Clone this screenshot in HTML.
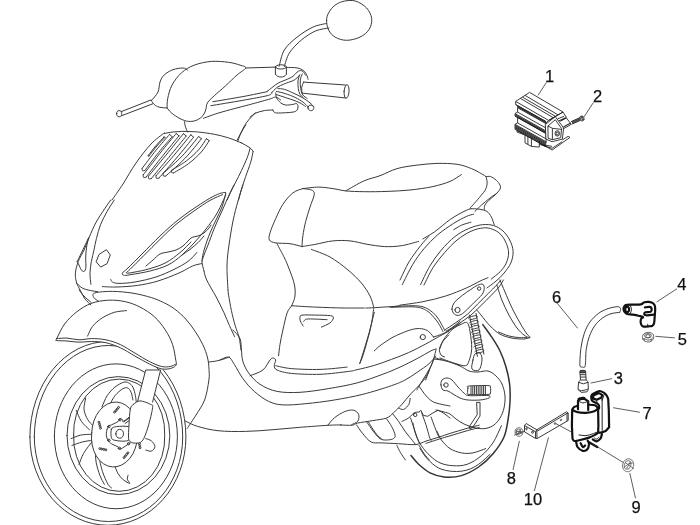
<!DOCTYPE html>
<html><head><meta charset="utf-8"><title>Parts diagram</title>
<style>
html,body{margin:0;padding:0;background:#fff;}
svg{display:block;will-change:transform}
.g{fill:none;stroke:#3a3a3a;stroke-width:1;stroke-linecap:round;stroke-linejoin:round}
.k{fill:none;stroke:#222;stroke-width:1;stroke-linecap:round;stroke-linejoin:round}
.k2{fill:none;stroke:#1a1a1a;stroke-width:0.85;stroke-linejoin:round}
.k3{fill:none;stroke:#222;stroke-width:0.9;stroke-linejoin:round}
.kb{fill:none;stroke:#111;stroke-width:2.2;stroke-linejoin:round;stroke-linecap:round}
.n{fill:none;stroke:#555;stroke-width:0.9}
.n2{fill:none;stroke:#444;stroke-width:0.7}
.gt{fill:none;stroke:#333;stroke-width:1.5;stroke-linecap:round}
.nf{stroke:none}
.t{fill:none;stroke:#333;stroke-width:0.8}
text{font-family:"Liberation Sans",sans-serif;font-size:16.5px;fill:#111;stroke:#111;stroke-width:0.25px}
</style></head><body>
<svg width="700" height="525" viewBox="0 0 700 525">
<rect width="700" height="525" fill="#fff"/>
<path class="g" d="M98.6 301.2C97.8 300.6 94.3 298.7 93.7 297.3C93.1 295.9 91.8 293.9 94.9 292.9C98.1 291.9 106.2 291.3 112.6 291.4C118.9 291.4 126.5 292.2 133.0 293.2C139.5 294.2 146.3 296.1 151.4 297.6C156.5 299.2 159.6 300.6 163.5 302.5C167.4 304.4 170.9 306.2 174.6 309.0C178.3 311.8 182.3 315.3 185.7 319.0C189.1 322.7 192.3 327.1 195.2 331.4C198.1 335.7 200.8 340.4 202.9 344.8C205.0 349.2 206.6 353.9 207.6 358.0C208.6 362.1 208.8 365.8 209.0 369.5C209.2 373.2 209.6 374.9 208.9 380.0C208.2 385.1 206.8 394.2 204.6 400.0C202.4 405.8 198.9 410.3 196.0 415.0C193.1 419.7 188.7 426.2 187.2 428.4"/>
<path class="g" style="fill:#fff" d="M29.9 437A78 95.5 0 0 1 185.9 437A78 88.3 0 0 1 29.9 437Z"/>
<path class="g" d="M34.3 437A74.2 91.5 0 0 1 182.7 437A74.2 84.5 0 0 1 34.3 437ZM54.4 436.3A61.5 72.4 0 1 0 177.4 436.3A61.5 72.4 0 1 0 54.4 436.3ZM67.0 435.6A51.4 59.0 0 1 0 169.8 435.6A51.4 59.0 0 1 0 67.0 435.6ZM73.6 435.2A45.6 53.6 0 1 0 164.7 435.2A45.6 53.6 0 1 0 73.6 435.2ZM102.0 406.9C102.9 405.0 105.0 399.0 107.1 395.7C109.3 392.4 112.1 389.4 114.9 387.1C117.6 384.9 121.1 383.1 123.4 382.3C125.7 381.6 127.0 382.1 128.6 382.9C130.1 383.7 131.7 385.0 132.9 387.1C134.0 389.3 134.9 393.1 135.4 395.7C136.0 398.3 136.1 401.4 136.3 402.6M110.1 403.9C110.9 402.5 113.1 397.9 115.2 395.4C117.3 392.9 120.5 390.1 122.6 388.9C124.7 387.6 126.3 387.4 127.7 388.0C129.1 388.6 130.3 390.3 131.1 392.3C132.0 394.3 132.6 398.7 132.9 400.0M85.7 398.3C85.4 400.1 83.7 405.9 84.0 409.4C84.3 413.0 86.3 417.1 87.8 419.7C89.2 422.3 91.8 424.3 92.6 425.2M76.3 410.3C77.1 412.1 79.2 418.2 81.4 421.4C83.6 424.7 88.1 428.3 89.5 429.7M71.1 438.6C72.7 438.0 77.2 435.9 80.6 435.1C83.9 434.4 89.4 434.4 91.2 434.3M72.0 445.4C73.7 444.9 78.9 442.9 82.3 442.0C85.7 441.1 90.6 440.6 92.2 440.3M92.6 440.9C91.1 443.0 85.8 449.6 83.5 453.5C81.3 457.5 79.8 462.6 79.0 464.4M95.3 449.9C95.4 452.0 95.4 458.4 96.2 462.6C97.0 466.8 98.5 471.6 99.8 475.2C101.2 478.9 103.6 482.8 104.3 484.3M98.9 457.1C99.5 459.6 101.0 467.1 102.5 471.6C104.0 476.2 106.5 481.6 108.0 484.3C109.5 487.0 111.0 487.3 111.6 487.9M114.3 464.4C114.9 465.9 116.4 470.9 117.9 473.4C119.4 476.0 121.4 478.1 123.3 479.8C125.3 481.4 129.0 483.5 129.7 483.4C130.3 483.3 127.6 480.6 127.3 479.2C127.1 477.9 127.9 475.9 128.1 475.2"/>
<path class="g" style="fill:#fff" d="M91.7 432.9A23.0 30.6 4 1 0 137.5 436.1A23.0 30.6 4 1 0 91.7 432.9Z"/>
<path class="k3" d="M113.6 412.1A0.9 0.9 0 1 0 115.5 412.1A0.9 0.9 0 1 0 113.6 412.1ZM115.0 410.6A0.9 0.9 0 1 0 116.9 410.6A0.9 0.9 0 1 0 115.0 410.6ZM116.3 409.0A0.9 0.9 0 1 0 118.2 409.0A0.9 0.9 0 1 0 116.3 409.0ZM117.6 407.4A0.9 0.9 0 1 0 119.5 407.4A0.9 0.9 0 1 0 117.6 407.4ZM98.0 422.2A0.9 0.9 0 1 0 99.9 422.2A0.9 0.9 0 1 0 98.0 422.2ZM98.6 424.2A0.9 0.9 0 1 0 100.5 424.2A0.9 0.9 0 1 0 98.6 424.2ZM99.1 426.2A0.9 0.9 0 1 0 101.0 426.2A0.9 0.9 0 1 0 99.1 426.2ZM99.6 428.2A0.9 0.9 0 1 0 101.5 428.2A0.9 0.9 0 1 0 99.6 428.2ZM98.9 448.6A0.9 0.9 0 1 0 100.8 448.6A0.9 0.9 0 1 0 98.9 448.6ZM100.9 449.0A0.9 0.9 0 1 0 102.8 449.0A0.9 0.9 0 1 0 100.9 449.0ZM102.9 449.4A0.9 0.9 0 1 0 104.8 449.4A0.9 0.9 0 1 0 102.9 449.4ZM104.9 449.8A0.9 0.9 0 1 0 106.8 449.8A0.9 0.9 0 1 0 104.9 449.8ZM123.1 457.6A0.9 0.9 0 1 0 125.0 457.6A0.9 0.9 0 1 0 123.1 457.6ZM124.4 456.0A0.9 0.9 0 1 0 126.3 456.0A0.9 0.9 0 1 0 124.4 456.0ZM125.7 454.4A0.9 0.9 0 1 0 127.6 454.4A0.9 0.9 0 1 0 125.7 454.4ZM127.0 452.8A0.9 0.9 0 1 0 128.9 452.8A0.9 0.9 0 1 0 127.0 452.8ZM138.4 443.7A0.9 0.9 0 1 0 140.3 443.7A0.9 0.9 0 1 0 138.4 443.7ZM138.8 445.8A0.9 0.9 0 1 0 140.7 445.8A0.9 0.9 0 1 0 138.8 445.8ZM139.1 447.8A0.9 0.9 0 1 0 141.0 447.8A0.9 0.9 0 1 0 139.1 447.8Z"/>
<path class="g" d="M111.4 429.1C112.3 427.3 113.7 427.0 116.6 426.6C119.4 426.1 126.2 426.1 128.6 426.6C130.9 427.0 130.5 427.1 130.6 429.1C130.8 431.1 130.5 436.6 129.6 438.6C128.7 440.6 127.6 440.9 125.1 441.1C122.7 441.4 117.1 440.9 114.9 440.3C112.6 439.7 112.0 439.6 111.4 437.7C110.9 435.9 110.6 431.0 111.4 429.1ZM107.1 429.1C107.4 428.6 108.1 426.4 108.9 425.7C109.6 425.0 109.9 425.6 111.4 424.9C113.0 424.1 116.9 422.4 118.3 421.4C119.7 420.4 119.3 419.1 120.0 418.9C120.7 418.6 122.0 419.3 122.6 419.7C123.1 420.1 121.9 422.2 123.4 421.4C125.0 420.6 130.6 416.0 132.0 414.9M107.1 429.1C107.0 430.1 106.1 433.3 106.3 435.1C106.4 437.0 107.1 438.9 108.0 440.3C108.9 441.7 109.7 442.6 111.4 443.7C113.1 444.9 116.9 446.2 118.3 447.1C119.7 448.1 119.3 449.1 120.0 449.2C120.7 449.3 121.3 448.8 122.6 448.0C123.9 447.2 126.4 445.4 127.7 444.6C129.0 443.7 129.9 443.1 130.3 442.9M118.8 419.7A1.2 1.2 0 1 0 121.2 419.7A1.2 1.2 0 1 0 118.8 419.7ZM107.7 426.6A1.2 1.2 0 1 0 110.1 426.6A1.2 1.2 0 1 0 107.7 426.6ZM107.7 440.3A1.2 1.2 0 1 0 110.1 440.3A1.2 1.2 0 1 0 107.7 440.3ZM118.3 448.3A1.2 1.2 0 1 0 120.7 448.3A1.2 1.2 0 1 0 118.3 448.3ZM127.4 443.7A1.2 1.2 0 1 0 129.8 443.7A1.2 1.2 0 1 0 127.4 443.7ZM115.9 433.8A3.8 3.8 0 1 0 123.4 433.8A3.8 3.8 0 1 0 115.9 433.8ZM123.8 421.9L133.4 414.9L133.7 417.1L125.1 423.5"/>
<path class="g" style="fill:#fff" d="M137.7 400.9L145.7 370.0L160.6 370.0L152.6 402.0"/>
<path class="g" style="fill:#fff" d="M133.6 404.3C132.0 405.6 131.2 405.4 130.4 408.9C129.6 412.3 129.3 419.9 129.0 424.9C128.7 429.8 128.3 435.7 128.6 438.6C128.9 441.4 129.7 441.2 130.9 442.0C132.0 442.8 133.5 443.3 135.4 443.1C137.3 443.0 140.2 443.5 142.3 440.9C144.4 438.2 146.3 432.7 148.0 427.1C149.7 421.6 152.2 411.5 152.6 407.7C153.0 403.9 152.4 405.4 150.3 404.3C148.2 403.1 142.8 400.9 140.0 400.9C137.2 400.9 135.2 403.0 133.6 404.3Z"/>
<path class="g" d="M145.7 438.6C146.7 439.0 149.9 439.5 151.4 440.9C153.0 442.2 154.9 444.9 154.9 446.6C154.9 448.3 153.0 450.6 151.4 451.1C149.9 451.7 146.7 450.2 145.7 450.0"/>
<path class="g" style="fill:#fff" d="M56.8 338.6C58.1 335.8 61.3 328.5 64.6 324.0C67.9 319.5 72.3 315.3 76.7 311.9C81.2 308.4 86.0 305.3 91.3 303.4C96.5 301.4 102.6 300.5 108.3 300.2C114.0 299.9 120.0 300.5 125.3 301.7C130.5 302.8 135.0 304.5 139.9 307.0C144.7 309.5 150.2 312.9 154.4 316.7C158.7 320.6 162.3 325.4 165.4 330.1C168.4 334.7 170.9 339.6 172.6 344.6C174.4 349.7 175.2 357.1 175.8 360.4C176.4 363.8 177.0 363.5 176.3 364.8C175.6 366.1 173.9 367.5 171.4 368.2C169.0 368.9 165.4 369.6 161.7 368.9C158.1 368.2 154.0 366.2 149.6 364.1C145.1 361.9 139.9 358.8 135.0 356.1C130.1 353.3 125.3 350.0 120.4 347.8C115.6 345.6 110.7 343.8 105.9 342.7C101.0 341.6 95.7 341.6 91.3 341.5C86.8 341.4 83.2 342.3 79.1 342.2C75.1 342.1 70.7 341.3 67.0 341.0C63.3 340.7 58.5 340.9 56.8 340.5C55.1 340.1 55.5 341.3 56.8 338.6Z"/>
<path class="g" d="M56.8 338.6C58.5 338.5 63.3 337.9 67.0 338.1C70.7 338.3 75.1 339.7 79.1 339.8C83.2 339.9 86.8 338.6 91.3 338.6C95.7 338.6 101.0 338.8 105.9 339.8C110.7 340.8 115.6 342.4 120.4 344.6C125.3 346.9 130.1 350.3 135.0 353.1C139.9 356.0 145.1 359.4 149.6 361.6C154.0 363.9 158.3 365.7 161.7 366.5C165.2 367.3 167.9 366.9 170.2 366.5C172.6 366.1 174.9 364.5 175.8 364.1M87.6 336.1C88.5 334.5 90.1 329.5 92.5 326.4C94.9 323.4 98.6 320.3 102.2 317.9C105.9 315.6 110.3 313.6 114.4 312.3C118.4 311.1 124.5 310.9 126.5 310.6M79.1 290.0C80.0 291.0 82.0 294.0 84.0 296.1C86.0 298.2 90.1 301.5 91.3 302.6M116.6 113.7A2.6 2.6 0 1 0 121.7 113.7A2.6 2.6 0 1 0 116.6 113.7ZM121.1 111.7L150.9 100.0M121.7 115.7L153.1 103.7M151.4 100.6C152.5 99.1 156.6 95.1 158.0 92.0C159.4 88.9 159.0 84.9 160.0 82.0C161.0 79.1 162.1 76.9 164.3 74.9C166.4 72.8 169.8 70.9 172.9 69.7C176.0 68.6 180.4 68.0 182.9 68.0C185.3 68.0 186.7 69.7 187.4 70.0M151.4 100.6C151.9 101.2 153.0 103.5 154.3 104.6C155.6 105.7 157.0 106.6 159.1 107.1C161.3 107.7 165.8 107.9 167.1 108.0M167.1 108.0C167.2 106.4 166.9 102.4 167.7 98.6C168.5 94.8 169.7 89.4 172.0 85.1C174.3 80.9 177.7 76.2 181.4 72.9C185.1 69.5 189.3 67.0 194.3 65.1C199.3 63.2 205.7 61.9 211.4 61.4C217.1 61.0 223.8 61.7 228.6 62.3C233.3 62.9 237.1 64.2 240.0 65.1C242.9 66.1 246.2 66.4 245.7 68.0C245.2 69.6 240.5 71.9 237.1 74.9C233.8 77.8 229.5 82.2 225.7 85.7C221.9 89.2 217.3 92.9 214.3 95.7C211.2 98.6 208.9 100.5 207.4 102.9C206.0 105.2 206.5 107.9 205.7 110.0C205.0 112.1 204.3 114.0 202.9 115.7C201.4 117.4 199.5 119.0 197.1 120.0C194.8 121.0 191.4 121.7 188.6 121.4C185.7 121.2 182.9 120.0 180.0 118.6C177.1 117.1 173.6 114.6 171.4 112.9C169.3 111.1 167.9 108.8 167.1 108.0M245.7 68.0L275.7 67.1M212.9 101.7C217.9 100.9 233.8 98.2 242.9 96.6C251.9 94.9 263.1 92.5 267.1 91.7M210.9 105.7C216.2 104.8 233.5 102.0 242.9 100.3C252.2 98.6 262.3 96.9 267.1 95.7C272.0 94.5 271.2 93.6 272.0 93.1M203.4 118.3C206.2 117.3 212.5 114.8 220.0 112.6C227.5 110.3 240.5 107.0 248.6 104.9C256.7 102.7 264.0 100.7 268.6 99.4C273.1 98.1 273.7 97.0 275.7 97.1C277.7 97.2 279.8 99.5 280.6 100.0M184.6 121.7C184.7 122.4 184.7 124.0 185.1 125.7C185.6 127.4 187.0 131.0 187.4 132.0M255.7 112.6C254.1 114.3 248.8 119.3 246.3 122.9C243.8 126.4 242.0 130.6 240.6 133.7C239.1 136.9 238.2 140.4 237.7 141.7M326.6 20.6C326.6 17.7 327.1 15.4 328.6 12.9C330.0 10.3 332.5 7.1 335.1 5.1C337.8 3.2 340.9 1.8 344.3 1.1C347.7 0.5 352.0 -0.0 355.7 1.1C359.4 2.3 363.9 5.1 366.6 8.0C369.2 10.9 371.3 15.0 371.7 18.6C372.1 22.1 371.1 26.3 369.1 29.4C367.2 32.5 363.8 35.3 360.0 37.1C356.2 39.0 350.7 40.3 346.6 40.3C342.4 40.3 338.1 38.9 335.1 37.1C332.1 35.4 330.0 32.8 328.6 30.0C327.1 27.2 326.6 23.4 326.6 20.6ZM326.6 23.4C324.3 24.0 317.8 24.9 312.9 27.1C308.0 29.4 301.9 33.3 297.1 37.1C292.4 41.0 287.3 45.1 284.3 50.0C281.3 54.9 280.0 63.6 279.1 66.3M328.9 28.0C326.7 28.5 320.3 28.9 315.7 30.9C311.1 32.9 305.8 36.3 301.4 40.0C297.0 43.7 292.3 48.4 289.4 52.9C286.6 57.3 285.1 64.3 284.3 66.6M275.4 66.9A5.4 2.1 0 1 0 286.3 66.9A5.4 2.1 0 1 0 275.4 66.9ZM275.4 67.1L275.4 74.3M286.4 67.1L286.4 74.3M275.4 74.3C275.8 74.6 277.0 76.0 277.9 76.4C278.8 76.9 279.8 77.0 280.9 77.0C281.9 77.0 283.1 76.9 284.0 76.4C284.9 76.0 286.0 74.6 286.4 74.3M286.4 67.4C288.2 67.5 294.4 67.4 297.1 67.9C299.9 68.4 301.6 69.4 303.1 70.4C304.7 71.5 305.6 72.8 306.4 74.3C307.3 75.8 307.9 78.5 308.1 79.3M267.1 91.4C268.1 90.7 271.0 88.3 272.9 86.9C274.8 85.4 276.2 84.1 278.6 82.9C281.0 81.6 284.8 80.4 287.1 79.3C289.5 78.2 291.2 77.6 292.9 76.4C294.5 75.2 296.0 73.1 297.1 72.1C298.3 71.2 298.8 70.8 299.7 70.7C300.7 70.6 301.9 70.6 302.9 71.4C303.9 72.2 305.2 74.8 305.7 75.4M271.4 92.9C272.4 92.0 275.0 88.9 277.1 87.4C279.3 85.9 281.7 85.0 284.3 83.9C286.9 82.7 290.6 81.8 292.9 80.7C295.1 79.6 296.7 78.1 297.9 77.1C299.0 76.2 299.3 75.4 299.6 75.0M299.6 75.0C299.3 76.0 298.2 78.5 298.0 80.7C297.8 83.0 298.0 86.3 298.3 88.6C298.6 90.8 299.2 92.8 300.0 94.3C300.8 95.8 302.6 96.9 303.1 97.4M302.3 74.0C302.0 75.0 300.5 77.6 300.3 80.0C300.0 82.4 300.3 86.1 300.7 88.6C301.1 91.1 301.8 93.4 302.9 95.0C303.9 96.6 306.4 97.7 307.1 98.3M303.6 82.1L345.4 85.0M302.1 93.1L345.4 98.0M344.1 91.3A2.4 6.6 4 1 0 349.0 91.6A2.4 6.6 4 1 0 344.1 91.3ZM303.6 82.1C303.3 83.0 302.0 85.6 301.7 87.4C301.5 89.3 302.1 92.2 302.1 93.1M277.9 88.6C278.9 88.7 281.8 88.6 284.3 89.3C286.8 90.0 289.8 91.4 292.9 92.9C296.0 94.3 300.0 96.2 302.9 97.9C305.7 99.5 308.2 101.4 310.0 102.9C311.8 104.3 313.0 105.8 313.6 106.4M276.4 91.4C277.5 91.7 280.1 92.0 282.9 92.9C285.6 93.7 289.8 95.1 292.9 96.4C296.0 97.8 299.1 99.5 301.4 101.0C303.8 102.5 305.7 104.4 306.9 105.7C308.0 107.0 308.0 108.3 308.3 108.9M276.4 94.6C277.5 94.9 280.1 95.8 282.9 96.7C285.6 97.6 290.0 99.0 292.9 100.0C295.7 101.0 297.9 101.8 300.0 102.9C302.1 103.9 304.5 105.8 305.4 106.4M308.4 106.4A2.9 2.3 30 1 0 313.3 109.3A2.9 2.3 30 1 0 308.4 106.4ZM275.7 92.9C275.9 93.7 275.7 96.2 276.6 97.9C277.4 99.5 279.2 101.7 280.7 102.9C282.2 104.0 283.7 104.7 285.7 105.0C287.7 105.3 291.1 104.7 292.9 104.4C294.6 104.2 295.6 103.3 296.4 103.6C297.3 103.8 297.9 104.9 298.0 106.0C298.1 107.1 298.0 109.0 297.1 110.0C296.3 111.0 296.0 111.6 292.9 112.1C289.8 112.6 281.7 113.0 278.6 113.0C275.5 113.0 275.2 112.8 274.3 112.3C273.3 111.8 273.1 110.4 272.9 110.0M250.0 117.1C251.0 116.5 253.3 114.2 255.7 113.1C258.1 112.0 261.4 111.1 264.3 110.6C267.1 110.0 271.4 110.1 272.9 110.0M164.2 136.8C162.9 138.3 158.9 142.3 156.2 145.4C153.6 148.5 149.5 153.8 148.2 155.5M164.9 137.5C163.6 138.9 159.6 142.9 156.9 146.0C154.3 149.1 150.3 154.4 148.9 156.1M164.2 136.8L164.9 137.5M148.2 155.5C148.2 155.6 148.2 156.0 148.3 156.1C148.4 156.2 148.8 156.1 148.9 156.1M169.6 134.4C167.3 137.1 160.5 144.7 155.9 150.4C151.4 156.0 144.5 165.3 142.2 168.3M172.2 136.7C169.9 139.3 163.1 146.9 158.6 152.5C154.0 158.1 147.2 167.4 144.9 170.4M169.6 134.4L172.2 136.7M142.2 168.3C142.2 168.7 142.0 170.4 142.5 170.7C143.0 171.1 144.5 170.5 144.9 170.4M176.2 133.5C173.5 136.8 165.4 146.5 159.9 153.4C154.5 160.3 146.0 171.3 143.2 174.9M179.0 135.8C176.3 139.1 168.3 148.8 162.8 155.7C157.3 162.5 148.9 173.5 146.1 177.1M176.2 133.5L179.0 135.8M143.2 174.9C143.3 175.3 143.1 177.1 143.6 177.4C144.0 177.8 145.7 177.2 146.1 177.1M183.4 133.7C180.5 137.3 171.7 148.1 165.9 155.2C160.1 162.3 151.4 172.7 148.5 176.2M186.2 136.0C183.3 139.6 174.5 150.4 168.7 157.5C162.9 164.6 154.2 175.0 151.4 178.5M183.4 133.7L186.2 136.0M148.5 176.2C148.6 176.6 148.3 178.4 148.8 178.8C149.2 179.2 150.9 178.6 151.4 178.5M190.8 134.8C188.0 138.3 179.5 148.8 173.7 155.6C167.9 162.4 159.0 172.4 156.1 175.7M193.6 137.2C190.8 140.6 182.3 151.2 176.5 158.0C170.7 164.8 161.8 174.8 158.9 178.1M190.8 134.8L193.6 137.2M156.1 175.7C156.1 176.1 155.8 177.9 156.3 178.3C156.7 178.7 158.4 178.1 158.9 178.1M198.6 136.5C197.0 138.4 192.5 144.3 189.2 148.1C186.0 151.8 183.6 154.7 179.3 158.9C175.0 163.1 166.0 170.9 163.3 173.3M201.4 138.7C199.9 140.7 195.3 146.6 192.0 150.4C188.8 154.2 186.2 157.3 181.8 161.5C177.5 165.8 168.5 173.6 165.8 176.0M198.6 136.5L201.4 138.7M163.3 173.3C163.3 173.7 162.8 175.4 163.2 175.9C163.6 176.3 165.4 176.0 165.8 176.0M206.4 138.7C205.1 140.5 202.1 146.0 198.7 149.7C195.4 153.4 190.9 157.5 186.4 160.9C181.9 164.3 174.3 168.5 171.9 170.0M209.2 140.6C207.9 142.5 204.7 148.2 201.3 152.0C197.8 155.8 193.1 160.2 188.5 163.7C183.9 167.1 176.2 171.3 173.7 172.9M206.4 138.7L209.2 140.6M171.9 170.0C171.8 170.4 171.0 171.9 171.3 172.3C171.6 172.8 173.3 172.8 173.7 172.9M164.3 133.5C165.8 133.2 170.1 132.3 173.0 132.0C175.9 131.7 178.7 131.5 181.7 131.4C184.7 131.3 187.9 131.5 191.0 131.6C194.1 131.7 196.1 131.8 200.0 132.2C203.9 132.6 209.5 133.4 214.3 134.3C219.1 135.2 224.1 136.5 228.6 137.9C233.1 139.3 239.3 142.1 241.4 142.9M164.3 132.9C162.1 134.8 155.7 139.0 151.0 144.0C146.3 149.0 140.7 156.3 136.0 163.0C131.3 169.7 127.0 177.8 123.0 184.0C119.0 190.2 113.8 197.3 112.0 200.0M110.7 200.0C109.4 201.9 105.4 207.6 102.9 211.4C100.4 215.2 98.0 218.6 95.7 222.9C93.5 227.1 91.2 232.6 89.3 237.1C87.3 241.7 85.8 246.0 84.0 250.0C82.2 254.0 79.7 257.6 78.3 261.4C76.9 265.2 75.7 269.4 75.4 272.9C75.1 276.3 75.6 279.0 76.4 282.0C77.3 285.0 79.1 288.2 80.6 291.0C82.0 293.8 83.3 296.7 85.0 299.0C86.7 301.3 89.9 303.9 90.9 304.9M114.3 200.0C113.1 201.9 109.4 207.4 107.1 211.4C104.9 215.5 102.5 219.8 100.7 224.3C98.9 228.8 97.5 234.3 96.4 238.6C95.3 242.9 94.8 246.2 94.0 250.0C93.2 253.8 92.1 257.6 91.4 261.4C90.8 265.2 90.1 269.0 90.0 272.9C89.9 276.7 90.7 282.4 90.9 284.3M88.6 237.9C88.2 239.4 87.0 243.9 86.6 247.1C86.1 250.4 85.8 253.8 85.7 257.1C85.6 260.5 86.1 264.8 85.9 267.1C85.6 269.5 85.0 271.0 84.3 271.4C83.5 271.9 82.4 271.3 81.4 270.0C80.4 268.7 79.0 265.0 78.3 263.6C77.6 262.2 77.3 262.0 77.1 261.7M88.6 237.9C87.4 240.4 83.3 248.9 81.4 252.9C79.5 256.8 77.9 260.2 77.1 261.7M99.3 254.3L106.4 249.7L110.3 255.0L107.1 263.6L100.7 267.1L96.4 262.1ZM225.4 192.6C223.9 191.8 218.9 193.6 214.0 196.0C209.1 198.4 202.0 203.0 196.0 207.0C190.0 211.0 184.0 215.2 178.0 220.0C172.0 224.8 166.0 230.3 160.0 236.0C154.0 241.7 147.3 248.7 142.0 254.0C136.7 259.3 131.3 264.8 128.0 268.0C124.7 271.2 123.0 271.8 122.4 273.0C121.8 274.2 122.8 275.2 124.4 275.4C126.0 275.6 127.7 275.1 132.0 274.4C136.3 273.7 144.0 272.6 150.0 271.0C156.0 269.4 162.7 267.7 168.0 265.0C173.3 262.3 177.7 258.7 182.0 255.0C186.3 251.3 190.0 247.3 194.0 243.0C198.0 238.7 202.3 233.7 206.0 229.0C209.7 224.3 213.2 219.7 216.0 215.0C218.8 210.3 221.4 204.7 223.0 201.0C224.6 197.3 226.9 193.4 225.4 192.6ZM222.6 194.6C220.5 195.6 214.8 197.7 210.0 200.4C205.2 203.1 199.7 207.0 194.0 211.0C188.3 215.0 181.7 219.7 176.0 224.4C170.3 229.1 165.3 234.2 160.0 239.4C154.7 244.6 149.0 250.4 144.0 255.4C139.0 260.4 132.9 266.5 130.0 269.4C127.1 272.3 125.7 272.5 126.4 273.0C127.1 273.5 130.1 272.9 134.0 272.2C137.9 271.5 144.7 270.2 150.0 268.6C155.3 267.0 161.0 265.3 166.0 262.6C171.0 259.9 175.8 256.0 180.0 252.6C184.2 249.2 189.2 243.8 191.0 242.0M146.0 266.0C147.2 265.0 150.7 262.0 153.0 260.0C155.3 258.0 157.5 255.3 160.0 254.0C162.5 252.7 165.3 252.7 168.0 252.0C170.7 251.3 173.5 251.0 176.0 250.0C178.5 249.0 181.0 247.5 183.0 246.0C185.0 244.5 186.5 242.4 188.0 241.0C189.5 239.6 190.3 238.2 192.0 237.4C193.7 236.6 196.0 236.7 198.0 236.0C200.0 235.3 202.2 234.3 204.0 233.0C205.8 231.7 207.8 229.3 209.0 228.0C210.2 226.7 210.7 225.5 211.0 225.0M204.0 236.0C203.0 237.1 200.3 240.4 198.0 242.6C195.7 244.8 192.7 247.3 190.0 249.4C187.3 251.5 183.3 254.1 182.0 255.0M110.8 279.4C111.1 279.8 111.0 281.3 112.4 282.0C113.8 282.7 115.2 283.4 119.0 283.4C122.8 283.4 128.8 283.1 135.0 282.0C141.2 280.9 149.5 279.1 156.0 277.0C162.5 274.9 168.7 272.0 174.0 269.4C179.3 266.8 184.2 264.2 188.0 261.4C191.8 258.6 195.5 253.9 197.0 252.4M102.4 286.6C104.8 286.7 111.1 287.2 117.0 287.0C122.9 286.8 130.8 286.4 137.6 285.4C144.4 284.4 151.1 283.1 158.0 281.0C164.9 278.9 173.2 275.5 179.0 273.0C184.8 270.5 188.8 267.6 192.6 266.0C196.4 264.4 200.1 264.0 201.6 263.6M225.6 194.0C225.0 196.2 223.6 202.7 222.0 207.0C220.4 211.3 218.0 215.7 216.0 220.0C214.0 224.3 211.9 228.2 210.0 233.0C208.1 237.8 205.7 244.3 204.4 249.0C203.1 253.7 202.1 257.3 202.0 261.0C201.9 264.7 203.7 269.3 204.0 271.0M234.0 185.0C233.3 186.3 232.0 188.7 230.0 193.0C228.0 197.3 224.7 205.0 222.0 211.0C219.3 217.0 216.3 223.3 214.0 229.0C211.7 234.7 209.7 240.7 208.0 245.0C206.3 249.3 205.0 252.3 204.0 255.0C203.0 257.7 202.3 260.0 202.0 261.0M243.0 185.0C242.2 187.7 239.7 195.0 238.0 201.0C236.3 207.0 234.5 213.7 233.0 221.0C231.5 228.3 230.0 237.7 229.0 245.0C228.0 252.3 227.2 257.5 227.0 265.0C226.8 272.5 227.8 285.8 228.0 290.0M241.4 142.9C242.9 143.7 248.0 146.4 250.0 147.9C252.0 149.3 252.6 150.8 253.1 151.4M253.1 151.4C252.7 153.2 252.0 158.0 250.7 162.1C249.5 166.3 247.3 171.9 245.7 176.4C244.2 181.0 242.6 185.4 241.4 189.3C240.2 193.2 239.0 198.2 238.6 200.0M250.0 148.6C249.5 150.1 248.6 154.2 247.1 157.9C245.7 161.5 243.3 166.7 241.4 170.7C239.5 174.8 237.5 178.6 235.7 182.1C233.9 185.7 232.1 189.2 230.7 192.1C229.3 195.1 227.7 198.7 227.1 200.0M245.7 125.0C245.0 126.2 242.9 129.6 241.4 132.1C240.0 134.6 237.9 138.7 237.1 140.0M76.5 283.0C77.6 283.9 80.2 287.1 82.9 288.4C85.7 289.7 90.5 290.5 93.0 291.0C95.5 291.5 96.9 291.5 97.7 291.6M302.9 188.6C301.2 189.3 296.2 190.2 292.9 192.9C289.5 195.5 285.7 200.0 282.9 204.3C280.0 208.6 277.9 213.8 275.7 218.6C273.6 223.3 271.0 229.3 270.0 232.9C269.0 236.4 268.5 238.3 269.4 240.0C270.4 241.7 272.3 242.2 275.7 242.9C279.1 243.5 285.6 243.1 290.0 243.7C294.4 244.3 300.0 246.1 302.0 246.6M302.9 188.6C304.3 188.8 309.5 189.0 311.4 190.0C313.3 191.0 314.5 191.4 314.3 194.3C314.0 197.1 311.4 202.6 310.0 207.1C308.6 211.7 306.9 216.7 305.7 221.4C304.5 226.2 303.5 231.5 302.9 235.7C302.2 239.9 302.1 244.8 302.0 246.6M302.9 188.6C305.5 188.3 313.6 187.1 318.6 187.1C323.6 187.1 328.3 188.0 332.9 188.6C337.4 189.2 340.5 190.3 345.7 190.9C351.0 191.4 357.4 191.6 364.3 191.7C371.2 191.8 379.5 191.7 387.1 191.4C394.8 191.1 402.4 190.8 410.0 190.0C417.6 189.2 426.2 188.0 432.9 186.6C439.5 185.1 445.2 183.4 450.0 181.4C454.8 179.4 459.5 175.7 461.4 174.6M302.0 246.6C304.3 246.2 310.6 245.2 315.7 244.3C320.9 243.3 327.1 241.4 332.9 240.9C338.6 240.3 344.3 240.3 350.0 240.9C355.7 241.4 361.4 243.3 367.1 244.3C372.9 245.2 378.6 246.3 384.3 246.6C390.0 246.8 395.7 246.6 401.4 245.7C407.1 244.9 415.7 242.1 418.6 241.4M311.4 249.4C314.5 250.7 323.9 253.6 330.0 257.0C336.1 260.4 342.8 265.7 348.0 270.0C353.2 274.3 357.7 278.7 361.4 283.0C365.1 287.3 367.9 292.0 370.0 296.0C372.1 300.0 373.1 305.2 373.7 307.0M277.0 243.7C278.2 246.1 282.7 254.3 284.5 258.0C286.3 261.7 286.8 262.9 288.0 266.0C289.2 269.1 290.9 273.2 292.0 276.5C293.1 279.8 294.2 282.8 294.7 286.0C295.2 289.2 295.4 292.9 295.0 296.0C294.6 299.1 293.3 302.1 292.0 304.9C290.7 307.7 288.6 308.7 287.1 312.9C285.6 317.1 284.1 324.8 282.9 330.0C281.7 335.2 280.7 340.0 280.0 344.3C279.3 348.6 278.8 353.8 278.6 355.7M345.7 190.9C348.8 189.2 358.3 183.4 364.0 180.9C369.7 178.3 374.5 177.8 380.0 175.7C385.5 173.7 391.0 170.3 397.1 168.6C403.3 166.8 410.5 166.0 417.1 165.1C423.8 164.3 430.5 163.6 437.1 163.4C443.8 163.3 451.4 163.4 457.1 164.3C462.9 165.1 467.4 167.0 471.4 168.6C475.5 170.1 479.0 172.4 481.4 173.7C483.9 175.0 485.2 176.1 486.0 176.6M486.0 176.6C486.2 177.5 487.2 180.2 487.1 182.3C487.1 184.4 486.8 186.9 485.7 189.1C484.7 191.4 482.8 193.3 480.9 195.7C479.0 198.1 476.1 201.4 474.3 203.4C472.5 205.5 470.7 207.2 470.0 208.0M486.0 176.6C486.8 176.6 488.9 176.0 490.6 176.6C492.3 177.2 494.7 178.9 496.3 180.3C497.9 181.7 499.4 183.7 500.0 185.1C500.6 186.6 500.8 187.5 500.0 189.1C499.2 190.8 497.0 193.0 495.1 194.9C493.2 196.8 490.3 198.9 488.6 200.6C486.9 202.3 485.6 203.7 484.9 205.1C484.1 206.6 484.4 208.7 484.3 209.4M497.1 193.1C496.0 194.0 492.6 196.0 490.0 198.0C487.4 200.0 484.0 202.9 481.4 205.1C478.9 207.4 476.0 210.4 474.9 211.4M422.9 238.9C424.8 237.7 429.7 235.2 434.3 232.0C438.9 228.8 445.3 222.9 450.3 219.4C455.2 216.0 460.6 213.2 464.0 211.4C467.4 209.6 469.7 209.1 470.9 208.7M400.0 280.0C401.5 277.0 405.7 267.4 409.1 261.7C412.6 256.0 417.3 249.9 420.6 245.7C423.8 241.5 427.2 238.1 428.6 236.6M402.3 284.6C404.0 281.3 409.0 270.7 412.6 264.7C416.2 258.7 419.8 253.7 424.0 248.7C428.2 243.7 432.8 239.0 437.7 234.7C442.7 230.5 449.0 226.4 453.7 223.3C458.5 220.3 463.0 218.0 466.3 216.5C469.6 214.9 472.4 214.6 473.6 214.2M420.6 284.6C422.1 281.5 426.3 272.0 429.7 266.3C433.1 260.6 437.0 255.2 441.1 250.3C445.3 245.3 450.3 240.2 454.9 236.6C459.4 233.0 464.0 230.6 468.6 228.6C473.1 226.6 478.1 225.2 482.3 224.7C486.5 224.2 490.3 224.6 493.7 225.6C497.1 226.6 500.2 228.5 502.9 230.9C505.5 233.3 508.0 236.6 509.7 240.0C511.4 243.4 513.0 247.6 513.1 251.4C513.3 255.2 512.4 259.2 510.9 262.9C509.3 266.5 506.5 270.1 504.0 273.1C501.5 276.2 498.9 278.7 496.0 281.1C493.1 283.6 488.4 286.9 486.9 288.0M424.0 285.0C425.5 282.1 429.7 272.8 433.1 267.4C436.6 262.0 440.6 257.1 444.6 252.6C448.6 248.0 452.8 243.5 457.1 240.0C461.5 236.5 466.5 233.3 470.9 231.3C475.2 229.3 479.8 228.2 483.4 227.9C487.0 227.5 489.7 228.2 492.6 229.3C495.4 230.3 498.3 231.9 500.6 234.3C502.9 236.6 505.0 240.3 506.3 243.4C507.6 246.6 508.6 249.8 508.6 253.0C508.6 256.3 507.6 259.8 506.3 262.9C505.0 265.9 503.0 268.6 500.6 271.3C498.1 274.0 493.0 277.6 491.4 278.9M453.7 229.7C455.0 229.0 458.9 226.4 461.7 225.1C464.6 223.9 469.3 222.7 470.9 222.2M470.9 208.7C472.2 208.8 476.2 208.7 478.9 209.1C481.5 209.6 484.8 210.1 486.9 211.4C489.0 212.8 490.2 214.9 491.4 217.1C492.6 219.4 493.7 223.4 494.2 224.7M400.0 305.1C403.8 304.6 415.2 303.2 422.9 301.7C430.5 300.2 438.5 298.3 445.7 296.0C453.0 293.7 460.6 290.5 466.3 288.0C472.0 285.5 476.4 282.9 480.0 281.1C483.6 279.4 486.7 278.3 488.0 277.7M291.4 305.7C295.5 306.0 306.9 306.8 315.7 307.1C324.5 307.5 336.2 307.9 344.3 308.0C352.4 308.1 361.0 308.0 364.3 308.0M373.7 308.6C373.3 311.2 372.5 318.8 371.4 324.3C370.3 329.8 368.6 336.2 367.1 341.4C365.7 346.7 364.0 352.1 362.9 355.7C361.7 359.3 360.5 361.7 360.0 362.9M303.1 326.0C302.7 325.1 300.8 322.3 300.3 320.9C299.8 319.4 299.7 318.1 300.0 317.1C300.3 316.2 299.4 315.5 302.0 315.1C304.6 314.8 311.0 315.0 315.7 315.1C320.5 315.2 327.6 315.2 330.6 315.7C333.5 316.2 333.5 316.8 333.4 318.0C333.3 319.2 332.0 321.3 330.0 322.9C328.0 324.4 322.9 326.4 321.4 327.1M303.7 321.4C304.2 321.0 304.6 319.5 306.6 319.1C308.6 318.8 312.3 319.0 315.7 319.1C319.1 319.2 325.2 319.6 327.1 319.7M275.7 365.7C278.3 366.2 284.0 368.0 291.4 368.6C298.8 369.2 310.7 369.7 320.0 369.4C329.3 369.2 342.6 367.5 347.1 367.1M204.0 271.0C204.4 272.5 204.7 275.7 206.7 280.0C208.7 284.3 213.3 291.6 216.2 297.0C219.0 302.4 221.6 307.6 223.8 312.4C226.0 317.2 227.7 321.7 229.5 325.7C231.3 329.7 233.7 334.7 234.5 336.5M228.0 290.0C228.1 290.9 228.0 291.8 228.6 295.2C229.2 298.6 230.3 305.4 231.4 310.5C232.5 315.6 233.9 321.3 235.2 325.7C236.5 330.1 238.0 332.9 239.0 337.0C240.0 341.1 240.7 347.8 241.0 350.0M209.0 362.0C210.2 361.8 213.7 361.5 216.2 361.0C218.7 360.5 221.6 359.7 223.8 359.0C226.0 358.3 228.6 357.3 229.5 357.0M250.0 375.7C252.2 374.8 259.6 372.6 262.9 370.0C266.2 367.4 268.3 362.0 270.0 360.0C271.7 358.0 271.9 358.0 272.9 358.0C273.8 358.0 275.5 358.7 275.7 360.0C275.9 361.3 274.1 364.0 274.3 365.7C274.5 367.4 274.2 368.7 277.1 370.0C280.0 371.3 284.2 372.7 291.4 373.4C298.5 374.1 310.5 374.6 320.0 374.3C329.5 374.0 342.4 372.2 348.6 371.4C354.8 370.6 352.8 370.7 357.1 369.7C361.4 368.7 368.6 367.1 374.3 365.4C380.0 363.7 385.7 361.5 391.4 359.4C397.1 357.3 402.9 355.2 408.6 352.6C414.3 350.0 420.6 346.7 425.7 344.0C430.8 341.3 435.5 338.4 439.4 336.3C443.3 334.2 447.3 332.0 448.9 331.1M232.9 330.0C234.1 331.4 238.6 335.3 240.0 338.6C241.4 341.9 240.9 346.2 241.4 350.0C241.9 353.8 241.7 357.6 242.9 361.4C244.1 365.2 245.8 369.1 248.6 372.9C251.4 376.7 255.2 381.2 260.0 384.3C264.8 387.4 270.4 390.1 277.1 391.4C283.8 392.7 291.4 392.8 300.0 392.3C308.6 391.8 319.1 390.2 328.6 388.6C338.1 387.0 348.1 385.3 357.1 382.9C366.2 380.5 375.8 376.8 382.9 374.2C390.0 371.6 394.3 369.7 400.0 367.1C405.7 364.5 412.0 361.3 417.1 358.6C422.2 355.9 427.8 352.5 430.9 350.9C434.0 349.3 435.1 349.4 436.0 349.1M220.0 360.0C221.4 359.5 226.2 356.4 228.6 357.1C231.0 357.8 231.9 360.7 234.3 364.3C236.7 367.9 239.6 374.1 242.9 378.6C246.2 383.1 250.0 387.6 254.3 391.4C258.6 395.2 263.8 399.1 268.6 401.4C273.4 403.6 276.7 404.5 282.9 404.9C289.1 405.3 297.1 404.5 305.7 403.7C314.3 402.9 324.8 401.6 334.3 400.0C343.8 398.4 353.4 396.7 362.9 394.3C372.4 391.9 384.4 388.1 391.4 385.7C398.4 383.3 400.8 382.2 405.1 380.0C409.4 377.8 413.1 375.0 417.1 372.3C421.1 369.6 426.0 366.4 429.1 363.7C432.2 361.0 434.6 357.3 435.7 356.0M365.7 308.1C367.1 308.0 370.0 307.9 374.3 307.7C378.6 307.4 385.7 306.9 391.4 306.6C397.1 306.3 403.7 305.8 408.6 305.8C413.4 305.7 417.1 305.6 420.6 306.3C424.0 306.9 426.6 308.1 429.1 309.7C431.7 311.3 434.0 313.4 436.0 315.7C438.0 318.0 439.7 320.9 441.1 323.4C442.6 325.9 444.3 329.6 444.9 330.8M389.7 307.1L400.0 305.8M391.4 307.3C395.4 307.3 409.6 306.4 415.4 307.0C421.3 307.5 423.5 308.8 426.6 310.6C429.7 312.3 431.9 315.1 433.9 317.4C436.0 319.7 437.6 321.9 439.1 324.3C440.6 326.6 442.2 330.3 442.9 331.5M374.3 312.3L369.1 332.9L364.0 350.0L359.7 363.7M374.3 350.9C375.4 349.9 378.0 347.1 381.1 344.9C384.3 342.6 388.9 339.4 393.1 337.1C397.4 334.9 402.9 332.6 406.9 331.1C410.9 329.7 414.0 328.8 417.1 328.6C420.3 328.3 423.4 328.9 425.7 329.8C428.0 330.6 429.6 332.5 430.9 333.7C432.1 334.9 433.0 336.6 433.4 337.1M420.2 337.1A2.6 2.6 0 1 0 425.4 337.1A2.6 2.6 0 1 0 420.2 337.1ZM433.4 337.1C435.0 336.6 440.1 334.9 442.9 333.7C445.6 332.5 446.9 331.5 449.7 329.8C452.6 328.1 458.3 324.5 460.0 323.4M446.3 331.1C447.4 330.4 450.9 328.5 453.1 326.9C455.4 325.2 458.9 322.1 460.0 321.2M448.9 334.9C447.9 336.0 444.4 339.1 442.9 341.4C441.3 343.8 439.7 346.9 439.4 349.1C439.1 351.4 440.3 353.9 441.1 355.1C442.0 356.4 444.0 356.6 444.6 356.9M436.0 349.1C435.9 349.9 435.7 351.3 435.1 353.4C434.6 355.6 433.6 359.1 432.6 362.0C431.6 364.9 430.3 367.6 429.1 370.6C428.0 373.6 426.3 378.4 425.7 380.0M435.1 357.7C436.4 358.1 440.1 359.4 442.9 360.3C445.6 361.1 448.6 362.0 451.4 362.9C454.3 363.7 458.6 365.0 460.0 365.4M445.1 329.7C446.9 328.6 451.7 325.4 455.4 322.9C459.1 320.3 463.7 317.4 467.4 314.3C471.1 311.1 474.3 307.4 477.7 304.0C481.1 300.6 484.9 296.9 488.0 293.7C491.1 290.6 494.4 287.4 496.6 285.1C498.7 282.9 500.1 280.9 500.9 280.0M447.7 331.4C449.6 330.1 455.0 326.4 458.9 323.7C462.7 321.0 467.1 318.2 470.9 315.1C474.6 312.1 477.7 308.7 481.1 305.4C484.6 302.0 488.4 298.2 491.4 295.1C494.4 292.0 497.1 289.4 499.1 286.9C501.1 284.3 502.7 281.1 503.4 280.0"/>
<path class="g" style="fill:#fff" d="M452.0 309.1C452.0 307.1 452.9 304.6 454.6 302.3C456.3 300.0 459.6 297.6 462.3 295.4C465.0 293.3 468.3 291.1 470.9 289.4C473.4 287.7 475.7 286.0 477.7 285.1C479.7 284.3 481.8 283.7 482.9 284.3C483.9 284.9 484.4 286.9 484.2 288.6C484.1 290.3 483.7 292.3 482.0 294.6C480.3 296.9 477.0 299.6 474.3 302.3C471.6 305.0 468.1 308.7 465.7 310.9C463.3 313.0 461.6 314.6 459.7 315.1C457.9 315.7 455.9 315.3 454.6 314.3C453.3 313.3 452.0 311.1 452.0 309.1Z"/>
<path class="g" d="M454.9 310.0A2.6 2.6 0 1 0 460.1 310.0A2.6 2.6 0 1 0 454.9 310.0ZM477.4 288.6A1.7 1.7 0 1 0 480.8 288.6A1.7 1.7 0 1 0 477.4 288.6ZM496.9 285.0C497.7 287.5 499.9 295.1 501.9 300.1C503.9 305.1 506.4 310.3 508.9 315.0C511.4 319.6 514.5 324.7 517.0 328.0C519.5 331.3 522.0 333.4 524.0 335.0C526.0 336.7 528.1 337.5 529.0 337.9M530.0 337.3C529.0 337.5 527.0 338.8 524.0 339.0C521.0 339.1 516.0 338.9 512.0 338.1C508.0 337.3 503.7 336.2 500.0 334.2C496.3 332.1 493.2 329.1 490.1 325.9C486.9 322.8 483.3 317.8 481.1 315.1C478.9 312.5 477.6 310.9 476.9 310.0M498.3 331.9C500.0 332.6 505.1 334.9 508.6 335.9C512.0 336.8 515.9 337.3 518.9 337.6C521.9 337.9 525.3 337.5 526.6 337.4M500.0 280.0C500.8 282.0 503.0 287.3 505.0 292.0C507.0 296.7 509.5 302.8 512.0 307.9C514.5 313.1 517.6 318.7 520.1 323.0C522.5 327.4 525.3 331.7 526.9 334.0C528.6 336.3 529.5 336.6 530.0 337.1M469.5 315.1L477.4 356.3M476.0 313.4L483.9 354.1M468.5 318.2C468.8 318.0 469.1 317.3 470.3 316.9C471.6 316.4 474.9 315.6 476.0 315.7C477.1 315.7 477.3 316.6 477.2 317.0C477.1 317.5 476.9 317.9 475.7 318.4C474.4 318.9 470.8 319.5 469.8 319.8M469.4 323.0C469.7 322.8 470.0 322.1 471.3 321.7C472.5 321.2 475.8 320.4 476.9 320.5C478.1 320.5 478.2 321.4 478.1 321.8C478.1 322.3 477.8 322.7 476.6 323.2C475.4 323.7 471.7 324.3 470.8 324.6M470.3 327.8C470.6 327.6 470.9 326.9 472.2 326.5C473.5 326.0 476.7 325.2 477.9 325.3C479.0 325.3 479.1 326.2 479.1 326.6C479.0 327.1 478.7 327.5 477.5 328.0C476.3 328.5 472.7 329.1 471.7 329.4M471.2 332.6C471.6 332.4 471.9 331.7 473.1 331.3C474.4 330.8 477.6 330.0 478.8 330.1C479.9 330.1 480.0 331.0 480.0 331.4C479.9 331.9 479.7 332.3 478.4 332.8C477.2 333.3 473.6 333.9 472.6 334.2M472.2 337.4C472.5 337.2 472.8 336.5 474.0 336.1C475.3 335.6 478.6 334.8 479.7 334.9C480.8 334.9 481.0 335.8 480.9 336.2C480.8 336.7 480.6 337.1 479.4 337.6C478.1 338.1 474.5 338.7 473.5 339.0M473.1 342.2C473.4 342.0 473.7 341.3 475.0 340.9C476.2 340.4 479.5 339.6 480.6 339.7C481.8 339.7 481.9 340.6 481.8 341.0C481.8 341.5 481.5 341.9 480.3 342.4C479.1 342.9 475.4 343.5 474.5 343.8M474.0 347.0C474.3 346.8 474.6 346.1 475.9 345.7C477.2 345.2 480.4 344.4 481.6 344.5C482.7 344.5 482.8 345.4 482.8 345.8C482.7 346.3 482.4 346.7 481.2 347.2C480.0 347.7 476.4 348.3 475.4 348.6M474.9 351.8C475.3 351.6 475.6 350.9 476.8 350.5C478.1 350.0 481.3 349.2 482.5 349.3C483.6 349.3 483.7 350.2 483.7 350.6C483.6 351.1 483.4 351.5 482.1 352.0C480.9 352.5 477.3 353.1 476.3 353.4M440.0 348.6C440.6 347.1 441.4 343.1 443.4 340.0C445.4 336.9 448.9 332.4 452.0 329.7C455.1 327.0 459.7 324.9 462.3 323.7C464.9 322.6 466.1 321.6 467.4 322.9C468.7 324.1 469.3 327.1 470.0 331.4C470.7 335.7 471.9 343.7 471.7 348.6C471.6 353.4 470.1 357.7 469.1 360.6C468.1 363.4 467.7 365.1 465.7 365.7C463.7 366.3 460.3 364.9 457.1 364.0C454.0 363.1 449.7 361.6 446.9 360.6C444.0 359.6 441.1 358.4 440.0 358.0"/>
<path class="gt" d="M482.8 324.6C484.2 326.6 488.5 332.2 491.4 336.6C494.3 341.0 497.6 345.9 500.0 351.0C502.4 356.1 504.4 361.5 506.0 367.0C507.6 372.5 508.9 378.2 509.6 384.0C510.3 389.8 510.3 396.0 510.0 402.0C509.7 408.0 509.0 414.2 508.0 420.0C507.0 425.8 506.5 431.3 504.0 437.0C501.5 442.7 497.0 449.0 492.8 454.0C488.6 459.0 483.8 463.4 478.6 467.0C473.4 470.6 467.1 473.9 461.4 475.6C455.7 477.3 449.4 477.5 444.2 477.0C439.0 476.5 434.3 474.9 430.0 472.8C425.7 470.7 421.8 467.1 418.6 464.2C415.4 461.3 412.3 457.0 411.0 455.6"/>
<path class="g" style="fill:#fff" d="M434.0 359.0C436.0 359.3 441.7 359.8 446.0 361.0C450.3 362.2 456.2 364.3 460.0 366.0C463.8 367.7 466.0 370.0 469.0 371.0C472.0 372.0 474.8 372.0 478.0 372.0C481.2 372.0 485.0 370.3 488.0 371.0C491.0 371.7 493.7 373.8 496.0 376.0C498.3 378.2 500.5 380.7 502.0 384.0C503.5 387.3 504.7 392.0 505.0 396.0C505.3 400.0 504.8 404.3 504.0 408.0C503.2 411.7 501.7 415.2 500.0 418.0C498.3 420.8 496.3 423.3 494.0 425.0C491.7 426.7 488.7 427.8 486.0 428.4C483.3 429.0 480.3 428.6 478.0 428.4C475.7 428.2 474.3 427.7 472.0 427.0C469.7 426.3 466.7 425.3 464.0 424.0C461.3 422.7 458.3 420.7 456.0 419.0C453.7 417.3 452.0 415.2 450.0 414.0C448.0 412.8 446.3 412.7 444.0 412.0C441.7 411.3 437.3 410.3 436.0 410.0"/>
<path class="g" d="M434.0 359.0C433.3 360.5 431.7 364.8 430.0 368.0C428.3 371.2 425.8 375.0 424.0 378.0C422.2 381.0 420.2 384.0 419.0 386.0C417.8 388.0 417.3 389.3 417.0 390.0M441.0 385.0C440.8 383.3 441.0 381.2 442.0 380.0C443.0 378.8 445.3 378.0 447.0 378.0C448.7 378.0 450.2 378.5 452.0 380.0C453.8 381.5 456.0 384.8 458.0 387.0C460.0 389.2 462.2 391.6 464.0 393.0C465.8 394.4 465.0 395.2 469.0 395.6C473.0 396.0 484.7 395.2 488.0 395.6C491.3 396.0 490.3 397.3 489.0 398.0C487.7 398.7 483.5 399.7 480.0 400.0C476.5 400.3 471.3 400.3 468.0 400.0C464.7 399.7 462.5 399.0 460.0 398.0C457.5 397.0 455.0 395.2 453.0 394.0C451.0 392.8 449.7 391.7 448.0 391.0C446.3 390.3 444.2 391.0 443.0 390.0C441.8 389.0 441.2 386.7 441.0 385.0ZM443.8 385.0A2.2 2.2 0 1 0 448.2 385.0A2.2 2.2 0 1 0 443.8 385.0Z"/>
<path class="g" style="fill:#fff" d="M468.0 388.0C468.2 387.0 465.7 386.4 469.0 386.0C472.3 385.6 484.4 385.4 488.0 385.6C491.6 385.8 490.0 385.8 490.4 387.0C490.8 388.2 490.8 391.8 490.4 393.0C490.0 394.2 491.6 394.2 488.0 394.4C484.4 394.6 472.4 394.8 469.0 394.4C465.6 394.0 467.8 393.1 467.6 392.0C467.4 390.9 467.8 389.0 468.0 388.0Z"/>
<path class="g" d="M471.0 386.4L471.0 394.0M472.8 386.4L472.8 394.0M474.6 386.4L474.6 394.0M476.4 386.4L476.4 394.0M478.2 386.4L478.2 394.0M480.0 386.4L480.0 394.0M481.8 386.4L481.8 394.0M483.6 386.4L483.6 394.0M485.4 386.4L485.4 394.0M477.0 402.4L480.0 402.4L480.0 416.0L473.0 427.0L470.0 429.0L469.0 427.0L477.0 415.0ZM473.0 360.0C473.5 357.5 473.8 355.2 475.0 354.0C476.2 352.8 478.8 352.0 480.0 353.0C481.2 354.0 482.2 357.2 482.0 360.0C481.8 362.8 480.7 368.5 479.0 370.0C477.3 371.5 473.0 370.7 472.0 369.0C471.0 367.3 472.5 362.5 473.0 360.0ZM501.4 425.7C500.0 428.6 496.2 437.9 492.9 442.9C489.5 447.9 485.7 452.1 481.4 455.7C477.1 459.3 471.9 462.6 467.1 464.3C462.4 466.0 457.4 466.0 452.9 465.7C448.3 465.5 443.8 464.5 440.0 462.9C436.2 461.2 433.1 458.6 430.0 455.7C426.9 452.9 423.8 449.3 421.4 445.7C419.0 442.1 417.1 438.1 415.7 434.3C414.3 430.5 413.3 424.8 412.9 422.9M485.7 448.6C483.6 449.3 476.9 452.1 472.9 452.9C468.8 453.6 465.2 453.6 461.4 452.9C457.6 452.1 453.3 450.7 450.0 448.6C446.7 446.4 443.6 442.9 441.4 440.0C439.3 437.1 437.9 432.9 437.1 431.4M490.0 454.3C488.1 456.0 482.4 461.7 478.6 464.3C474.8 466.9 471.4 468.8 467.1 470.0C462.9 471.2 457.6 471.8 452.9 471.4C448.1 471.1 442.9 470.1 438.6 468.0C434.3 465.9 430.2 461.8 427.1 458.6C424.0 455.3 421.2 450.2 420.0 448.6M340.3 425.0C342.3 425.1 349.4 425.5 352.3 425.2C355.1 424.9 354.0 423.9 357.4 423.1C360.9 422.4 368.0 421.4 372.9 420.6C377.7 419.7 383.1 419.3 386.6 418.0C390.0 416.7 390.9 415.1 393.4 412.9C396.0 410.6 399.1 407.4 402.0 404.3C404.9 401.1 407.7 397.1 410.6 394.0C413.4 390.9 416.6 388.3 419.1 385.4C421.7 382.6 424.3 379.4 426.0 376.9C427.7 374.3 428.9 371.1 429.4 370.0M356.6 424.9C357.6 426.3 360.1 430.6 362.6 433.4C365.0 436.3 368.0 440.4 371.1 442.0C374.3 443.6 376.9 442.6 381.4 442.9C386.0 443.1 392.9 443.4 398.6 443.7C404.3 444.0 411.1 445.0 415.7 444.6C420.3 444.1 422.0 442.4 426.0 441.1C430.0 439.9 435.7 438.1 439.7 436.9C443.7 435.6 445.4 434.9 450.0 433.4C454.6 432.0 462.3 429.7 467.2 428.3C472.0 426.9 477.2 425.7 479.2 425.2M386.6 418.9C387.4 420.1 390.3 423.9 391.7 426.6C393.1 429.3 394.9 433.1 395.1 435.1C395.4 437.1 394.6 437.8 393.4 438.6C392.3 439.4 390.3 439.8 388.3 439.9C386.3 440.1 383.4 440.2 381.4 439.4C379.4 438.6 378.0 437.0 376.3 435.1C374.6 433.3 372.7 430.4 371.1 428.3C369.6 426.1 367.6 423.3 366.9 422.3M368.6 422.3C369.3 423.4 371.3 426.9 372.9 429.1C374.4 431.4 376.6 434.4 378.0 436.0C379.4 437.6 380.9 438.1 381.4 438.6M398.6 408.1C399.4 408.3 402.0 410.1 403.7 409.4C405.4 408.8 407.8 406.1 408.9 404.3C409.9 402.4 410.0 399.3 410.2 398.3M402.0 421.4C402.9 421.0 405.7 419.7 407.1 418.9C408.6 418.0 409.4 417.3 410.6 416.3C411.7 415.3 412.6 413.6 414.0 412.9C415.4 412.1 418.3 412.1 419.1 412.0M419.1 412.0L420.9 410.3L423.4 415.4L427.7 416.3L432.9 412.9L438.0 410.3M438.0 410.3C438.9 410.7 441.1 411.6 443.1 412.9C445.1 414.1 448.9 417.1 450.0 418.0M413.5 414.9A1.7 1.7 0 1 0 416.9 414.9A1.7 1.7 0 1 0 413.5 414.9ZM392.6 413.7C393.6 415.0 396.4 418.4 398.6 421.4C400.7 424.4 403.1 428.6 405.4 431.7C407.7 434.9 410.6 438.1 412.3 440.3C414.0 442.4 415.1 443.9 415.7 444.6M410.6 418.0C411.1 419.7 412.9 424.9 414.0 428.3C415.1 431.7 416.6 436.1 417.4 438.6C418.3 441.0 418.9 442.1 419.1 442.9M421.7 412.9C422.4 414.9 424.7 420.9 426.0 424.9C427.3 428.9 428.6 434.3 429.4 436.9C430.3 439.4 430.9 439.7 431.1 440.3M431.1 417.1C431.7 418.7 433.4 423.6 434.6 426.6C435.7 429.6 437.1 433.3 438.0 435.1C438.9 437.0 439.4 437.3 439.7 437.7M396.9 445.4C397.4 446.6 398.9 449.9 400.3 452.3C401.7 454.7 404.6 458.7 405.4 460.0M419.1 445.4C420.0 446.9 422.6 451.6 424.3 454.0C426.0 456.4 428.6 459.0 429.4 460.0M419.1 386.3C420.3 387.9 423.7 393.1 426.0 395.7C428.3 398.3 430.3 400.3 432.9 401.7C435.4 403.1 438.6 403.6 441.4 404.3C444.3 405.0 448.6 405.7 450.0 406.0M426.0 443.4C428.3 442.6 435.7 440.2 439.7 438.9C443.7 437.7 445.4 437.2 450.0 435.8C454.6 434.5 462.3 432.1 467.2 430.7C472.0 429.3 477.2 428.1 479.2 427.6M185.4 421.1C187.4 422.0 192.0 424.7 197.4 426.3C202.9 427.9 210.0 429.9 218.0 430.7C226.0 431.6 236.3 431.6 245.4 431.4C254.6 431.3 263.7 430.4 272.9 429.7C282.0 429.0 291.1 428.1 300.3 427.3C309.4 426.6 320.9 425.7 327.7 425.3C334.6 424.9 339.1 425.0 341.4 424.9M327.7 425.3C328.9 424.0 331.7 420.0 334.6 417.7C337.4 415.4 341.7 412.8 344.9 411.5C348.0 410.3 351.1 409.7 353.4 410.2C355.7 410.6 357.8 412.5 358.6 414.3C359.3 416.1 359.0 419.4 357.9 421.1C356.7 422.9 352.7 424.0 351.7 424.6"/>
<path class="k2" style="fill:#fff" d="M515.7 101.4L515.7 104.6L517.6 105.7L517.6 112.1L515.0 113.6L515.0 116.0L517.6 117.4L517.6 122.9L515.0 124.3L515.0 129.3L517.1 130.7L517.1 132.1L546.1 142.9L546.1 122.9L548.6 120.4"/>
<path class="nf" style="fill:#9a9a9a" d="M517.6 105.7L546.1 121.7L546.1 123.7L517.6 107.7Z"/>
<path class="nf" style="fill:#8a8a8a" d="M515.0 113.7L546.1 131.2L546.1 133.7L515.0 116.3Z"/>
<path class="nf" style="fill:#a0a0a0" d="M515.0 124.4L546.1 141.9L546.1 146.9L515.0 129.4Z"/>
<path class="k2" style="fill:#fff" d="M515.7 101.4L529.6 92.4L563.0 112.0L548.6 120.4Z"/>
<path class="k2" d="M520.4 98.4L553.3 117.7M525.0 95.4L558.1 114.9M522.4 97.1L555.6 116.4M515.7 104.6L546.1 121.6M517.6 105.7L546.1 121.7M517.6 106.7L546.1 122.7M517.6 107.7L546.1 123.7M517.6 112.1L546.1 128.1M515.0 113.6L546.1 131.0M515.0 114.9L546.1 132.3M515.0 116.1L546.1 133.6M517.6 117.4L546.1 133.4M517.6 122.9L546.1 138.9M515.0 124.3L546.1 141.7M515.0 125.4L546.1 142.9M515.0 126.6L546.1 144.0M515.0 127.7L546.1 145.2M515.0 128.9L546.1 146.3M517.1 130.6L546.1 146.8"/>
<path class="k2" style="fill:#fff" d="M545.3 124.6L555.3 116.6L563.6 128.0L562.4 139.1L552.1 141.7L545.9 139.1Z"/>
<path class="k2" d="M548.6 120.4L555.3 116.6L563.0 112.0M547.9 126.0L555.3 119.7L561.6 128.6L560.7 137.7L552.4 139.7L548.1 138.3ZM552.4 128.3L552.4 139.7M552.4 128.3L561.6 129.4M547.9 126.0L552.4 128.3M555.0 133.4A2.3 2.7 0 1 0 559.6 133.4A2.3 2.7 0 1 0 555.0 133.4ZM556.1 133.4A1.1 1.4 0 1 0 558.4 133.4A1.1 1.4 0 1 0 556.1 133.4ZM563.0 112.0L566.4 117.4L560.4 121.1M566.4 118.0L570.4 123.1L563.3 126.9M560.4 121.1L566.4 118.0M570.4 123.1L570.4 124.9L563.6 128.6M557.6 118.9L564.1 116.3M558.7 120.9L565.6 117.7M525.0 135.4L525.0 142.9L531.4 146.4L539.3 147.1L539.3 140.7M531.4 137.4L531.4 146.4M527.9 136.4L527.9 144.3M539.3 142.9L552.1 150.0L570.0 137.4L568.1 136.3L562.4 140.0M539.3 144.3L552.1 148.3L562.1 141.7M542.1 144.6L552.1 146.4M571.0 121.7L580.0 117.6M571.4 124.3L580.7 120.3M572.1 121.1L572.9 123.7M573.1 120.7L573.9 123.3M574.1 120.2L574.9 122.8M575.1 119.8L575.9 122.3M576.1 119.3L576.9 121.9M577.1 118.9L577.9 121.4M578.1 118.4L578.9 121.0M579.1 117.9L579.9 120.5M580.5 119.0A1.3 2.3 -20 1 0 582.9 118.1A1.3 2.3 -20 1 0 580.5 119.0ZM581.8 118.5A1.1 2.1 -20 1 0 583.9 117.8A1.1 2.1 -20 1 0 581.8 118.5Z"/>
<path class="t" d="M563.6 127.1L571.0 122.9"/>
<path class="k3" d="M619.9 312.4C620.0 311.7 620.9 309.5 620.5 308.6C620.1 307.6 619.7 306.7 617.6 306.7C615.6 306.7 611.3 307.5 608.1 308.6C604.9 309.7 601.6 311.1 598.6 313.3C595.6 315.6 592.4 318.6 590.0 321.9C587.6 325.2 585.8 329.0 584.3 333.3C582.8 337.6 581.8 342.4 581.0 347.6C580.3 352.9 579.7 361.5 579.9 364.8C580.1 368.0 581.5 366.9 582.4 367.0C583.3 367.2 584.6 368.6 585.2 365.7C585.9 362.8 585.5 354.4 586.2 349.5C586.9 344.6 588.0 340.2 589.4 336.2C590.9 332.2 592.6 328.7 594.8 325.7C596.9 322.7 599.7 320.1 602.4 318.1C605.1 316.1 608.0 314.7 611.0 313.7C613.9 312.8 618.4 312.6 619.9 312.4"/>
<path class="k3" style="fill:#fff" d="M579.9 372.0L580.5 380.0L578.6 381.9L578.0 389.5L581.4 392.4L587.1 391.8L588.3 389.5L588.1 381.9L586.2 380.0L585.6 372.0Z"/>
<path class="k3" style="fill:#555" d="M579.9 371.6A2.9 1.1 0 1 0 585.6 371.6A2.9 1.1 0 1 0 579.9 371.6Z"/>
<path class="k3" d="M580.5 380.0L586.2 380.0M578.6 382.3L583.3 383.8L588.1 382.3M580.1 374.7L585.6 374.7M580.3 377.1L586.0 377.1M578.0 389.1C578.6 389.4 579.7 390.7 581.4 390.7C583.1 390.7 587.0 389.4 588.1 389.1"/>
<path class="kb" style="fill:#fff" d="M623.5 308.9C623.4 307.8 624.1 306.7 624.6 306.0C625.1 305.3 625.2 305.1 626.6 304.9C627.9 304.6 630.5 304.7 632.9 304.6C635.2 304.5 639.0 304.7 640.9 304.3C642.8 303.9 643.0 302.7 644.3 302.3C645.6 301.9 647.3 301.7 648.9 301.9C650.4 302.1 652.4 302.6 653.4 303.5C654.5 304.4 654.9 305.2 655.1 307.1C655.4 309.1 655.0 312.5 654.8 315.1C654.6 317.8 654.5 321.4 654.1 323.1C653.7 324.9 653.4 325.1 652.5 325.7C651.6 326.2 650.4 326.2 648.9 326.3C647.3 326.5 644.6 326.9 643.4 326.6C642.1 326.3 641.6 325.8 641.2 324.5C640.8 323.3 640.5 320.4 640.9 319.1C641.2 317.9 643.5 317.5 643.1 317.0C642.8 316.4 640.3 316.2 638.6 315.8C636.9 315.4 634.8 315.0 632.9 314.7C631.0 314.4 628.5 314.4 627.1 314.0C625.8 313.6 625.5 313.1 624.9 312.3C624.2 311.4 623.5 309.9 623.5 308.9Z"/>
<path class="kb" d="M625.2 309.4A1.9 2.7 0 1 0 629.1 309.4A1.9 2.7 0 1 0 625.2 309.4Z"/>
<path class="k" d="M630.3 305.4C630.5 306.1 631.5 308.1 631.5 309.4C631.5 310.8 630.5 312.8 630.3 313.4"/>
<path class="kb" d="M644.9 307.4C645.7 307.3 648.9 306.6 650.0 306.9C651.1 307.2 651.6 308.4 651.7 309.2C651.8 310.0 651.6 311.2 650.6 311.7C649.5 312.2 646.5 312.0 645.4 312.3C644.4 312.6 644.4 313.0 644.3 313.4C644.2 313.9 644.3 314.6 644.9 314.9C645.4 315.2 646.2 315.4 647.7 315.4C649.2 315.3 652.7 314.7 653.7 314.6"/>
<path class="k" d="M647.7 326.3L647.7 324.3"/>
<path class="n" d="M642.5 336.3C642.6 335.5 643.0 334.6 643.7 334.0C644.4 333.4 645.5 332.8 646.6 332.5C647.6 332.3 649.0 332.3 650.0 332.5C651.0 332.8 652.2 333.4 652.9 334.0C653.5 334.6 653.6 335.4 653.7 336.3C653.7 337.1 653.6 338.3 653.2 339.1C652.8 340.0 652.1 340.7 651.1 341.2C650.2 341.7 648.9 342.1 647.7 342.0C646.6 341.9 645.1 341.4 644.3 340.9C643.4 340.3 643.0 339.7 642.7 338.9C642.4 338.2 642.3 337.1 642.5 336.3ZM644.5 335.7A3.4 2.1 0 1 0 651.4 335.7A3.4 2.1 0 1 0 644.5 335.7ZM645.9 336.2A2.1 1.3 0 1 0 650.0 336.2A2.1 1.3 0 1 0 645.9 336.2ZM642.7 338.9C643.0 338.9 643.4 338.4 644.3 338.6C645.1 338.8 646.5 340.0 647.7 340.1C648.9 340.2 650.4 339.6 651.4 339.1C652.3 338.6 653.1 337.4 653.4 337.1M644.3 338.6L644.3 340.9M651.4 339.1L651.1 341.2"/>
<path class="kb" d="M591.2 396.5C591.4 396.1 591.5 395.0 592.3 394.3C593.1 393.7 594.5 393.1 595.8 392.5C597.1 391.9 598.5 390.9 599.9 391.0C601.4 391.1 603.3 392.3 604.5 393.1C605.7 393.9 606.3 395.0 606.9 396.0C607.5 397.0 607.9 398.5 608.2 399.0M608.2 399.0L608.8 410.5L609.1 427.2L605.7 431.0L601.1 432.6L598.1 432.6M591.2 396.5C591.4 397.1 591.1 399.5 592.0 400.6C592.9 401.7 595.4 402.3 596.6 403.2C597.7 404.0 598.5 404.5 598.9 405.4C599.3 406.4 599.0 408.1 599.0 408.6M592.9 395.8L599.0 393.1L602.1 394.9L601.6 397.4L596.6 399.8L593.4 398.6Z"/>
<path class="k" d="M596.6 399.8L597.0 402.9M601.6 397.4L602.1 400.6L602.2 430.3M604.5 393.4L602.1 400.6"/>
<path class="kb" d="M572.2 409.7C573.0 410.1 574.5 411.5 576.8 412.0C579.0 412.5 583.0 412.9 585.9 412.8C588.8 412.6 592.3 412.0 594.3 411.2C596.3 410.5 597.5 408.7 598.1 408.2M572.2 409.7C572.5 409.3 573.1 407.8 574.0 407.1C575.0 406.4 577.3 405.9 578.0 405.6M588.2 404.7C589.3 404.8 593.4 404.7 595.0 405.3C596.7 405.9 597.6 407.7 598.1 408.2M572.2 409.7L571.9 425.7L572.5 438.7M572.5 438.7C572.7 439.0 573.1 440.3 573.7 440.6C574.3 441.0 574.7 441.1 576.0 441.0C577.3 440.8 579.2 440.3 581.3 439.7C583.5 439.2 586.7 438.4 589.0 437.6C591.2 436.8 593.5 435.7 595.0 434.9C596.6 434.0 597.6 433.0 598.1 432.6M598.1 408.2L598.4 425.7L598.1 432.6"/>
<path class="k" d="M579.0 434.9C580.2 435.0 583.5 435.8 585.9 435.6C588.3 435.4 591.5 434.3 593.5 433.6C595.6 433.0 597.3 431.9 598.1 431.5"/>
<path class="kb" d="M578.0 400.6L578.0 409.3M588.2 401.3L588.2 409.9M578.0 400.6C578.4 400.3 579.5 399.5 580.6 399.2C581.6 398.9 583.1 398.7 584.4 399.0C585.7 399.4 587.6 401.0 588.2 401.3"/>
<path class="k" d="M578.0 400.9C578.8 401.2 581.2 402.8 582.9 402.9C584.6 402.9 587.3 401.6 588.2 401.3"/>
<path class="kb" d="M578.6 398.9C579.0 398.7 580.4 398.1 581.3 398.0C582.3 397.8 583.9 398.0 584.4 398.0M576.0 441.0C576.3 442.0 576.4 445.4 577.5 447.0C578.7 448.7 581.2 450.5 582.9 450.9C584.5 451.2 586.4 450.5 587.4 449.3C588.4 448.2 588.9 445.4 589.0 444.0C589.0 442.6 587.9 441.2 587.7 440.6M580.6 443.2C581.0 443.9 582.1 446.7 582.9 447.0C583.6 447.4 584.8 445.8 585.1 445.5M592.8 439.4C593.4 439.7 595.3 441.4 596.6 441.3C597.8 441.1 599.5 439.9 600.4 438.7C601.3 437.5 601.7 434.9 601.9 434.1"/>
<path class="k" d="M594.3 437.9C594.7 438.1 595.8 439.3 596.6 439.1C597.3 439.0 598.5 437.5 598.9 437.1"/>
<path class="kb" d="M589.0 442.2L597.3 447.0"/>
<path class="k3" style="fill:#fff" d="M524.5 425.5L526.2 423.5L536.8 429.8L566.5 411.8L568.2 413.0L568.2 420.5L537.2 438.5L535.0 438.2L524.5 431.8Z"/>
<path class="k3" d="M536.8 429.8L537.0 438.3M524.5 425.5L535.5 431.8L535.5 438.0M535.5 431.8L536.8 429.8M537.2 431.2L567.0 413.4L568.2 413.0M567.0 413.4L567.0 421.0M525.8 428.8A0.7 1.0 0 1 0 527.2 428.8A0.7 1.0 0 1 0 525.8 428.8ZM531.6 432.2A0.9 1.1 0 1 0 533.4 432.2A0.9 1.1 0 1 0 531.6 432.2ZM554.2 423.9A0.9 0.6 -30 1 0 555.8 423.1A0.9 0.6 -30 1 0 554.2 423.9ZM560.3 420.4A0.8 0.5 -30 1 0 561.7 419.6A0.8 0.5 -30 1 0 560.3 420.4Z"/>
<path class="n2" d="M515.0 432.0A4.0 4.4 0 1 0 523.0 432.0A4.0 4.4 0 1 0 515.0 432.0ZM516.3 431.8A2.2 2.8 0 1 0 520.7 431.8A2.2 2.8 0 1 0 516.3 431.8ZM515.5 430.0L522.5 434.0M517.0 435.0L521.0 429.0M515.0 432.5L519.0 431.2L522.8 432.0"/>
<path class="t" d="M514.2 435.2L524.5 431.2"/>
<path class="n2" d="M622.8 463.8A5.5 6.3 15 1 0 633.4 466.7A5.5 6.3 15 1 0 622.8 463.8ZM624.5 464.1A3.2 4.4 15 1 0 630.7 465.8A3.2 4.4 15 1 0 624.5 464.1ZM625.0 462.4L633.8 468.6M626.7 468.6L630.5 461.4M623.8 467.6L628.6 463.8L632.9 462.9"/>
<g class="t"><path d="M546.3 82.5L538 95.4M593.4 102.5L584 116.9M677 288.7L656.6 302M674.9 337.9L655.4 336.3M557.1 303.1L577.7 328.3M612 378.6L590.7 383.1M639.9 412.3L613.1 407.7M513 470L519.4 440.9M534.3 491L548.5 437.4M635.5 498.3L629.8 473.1M591.4 443.1L623.4 462.6M556 423.7L570.9 431.7"/></g>
<text x="544.9" y="81.7">1</text>
<text x="593.1" y="102">2</text>
<text x="613.8" y="384.3">3</text>
<text x="677.3" y="290.4">4</text>
<text x="677.8" y="344.6">5</text>
<text x="551.9" y="302.6">6</text>
<text x="642.4" y="418.5">7</text>
<text x="506.8" y="483.7">8</text>
<text x="631.5" y="512.7">9</text>
<text x="523.8" y="505.1">10</text>

</svg></body></html>
